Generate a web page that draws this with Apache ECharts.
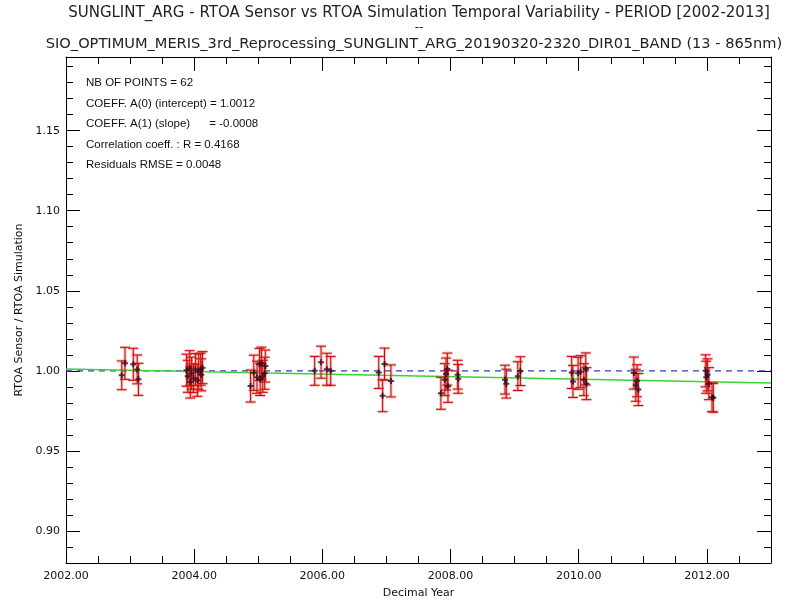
<!DOCTYPE html>
<html><head><meta charset="utf-8">
<script src="https://cdn.jsdelivr.net/npm/echarts@6/dist/echarts.min.js"></script>
<style>html,body{margin:0;padding:0;background:#fff}#c{width:795px;height:604px}</style>
</head><body><div id="c"></div>
<script>
const years = [2002.87,2002.92,2003.05,2003.11,2003.13,
 2003.88,2003.90,2003.93,2003.94,2003.96,2003.99,2004.02,2004.05,2004.07,2004.10,2004.11,2004.13,
 2004.88,2004.93,2004.98,2005.02,2005.03,2005.05,2005.07,2005.11,2005.10,
 2005.88,2005.98,2006.07,2006.13,
 2006.88,2006.94,2006.97,2007.07,
 2007.85,2007.91,2007.93,2007.95,2007.96,2008.11,2008.12,
 2008.85,2008.87,2009.05,2009.09,
 2009.89,2009.91,2009.99,2010.03,2010.08,2010.11,2010.12,
 2010.86,2010.89,2010.91,2010.93,
 2011.98,2011.99,2012.01,2012.03,2012.08,2012.10];
const ratios = [0.9972,1.0047,1.0041,1.0009,0.9947,
 1.0004,0.9966,1.0016,0.9930,0.9985,0.9954,1.0008,0.9941,0.9995,1.0010,0.9975,1.0020,
 0.9905,0.9988,0.9960,1.0040,0.9946,1.0048,0.9966,1.0030,0.9985,
 1.0000,1.0054,1.0010,1.0000,
 0.9990,0.9845,1.0042,0.9937,
 0.9860,0.9945,0.9980,1.0011,0.9903,0.9976,0.9950,
 0.9945,0.9920,0.9967,0.9998,
 0.9990,0.9934,0.9985,0.9995,0.9945,1.0012,0.9920,
 0.9986,0.9910,0.9938,0.9883,
 1.0000,0.9960,0.9975,0.9920,0.9835,0.9832];
const errors = [0.009,0.010,0.010,0.009,0.010,
 0.010,0.010,0.011,0.010,0.010,0.009,0.010,0.010,0.011,0.010,0.010,0.010,
 0.010,0.011,0.010,0.010,0.010,0.010,0.010,0.010,0.010,
 0.009,0.010,0.010,0.009,
 0.010,0.010,0.010,0.010,
 0.010,0.010,0.010,0.010,0.010,0.009,0.009,
 0.009,0.009,0.009,0.009,
 0.010,0.010,0.010,0.010,0.010,0.010,0.010,
 0.010,0.010,0.010,0.010,
 0.010,0.010,0.010,0.010,0.009,0.009];
const fitX = [2002, 2013];
const fitY = [1.0012, 0.9924];
const refX = [2002, 2013];
const refY = [1.0, 1.0];
const xMajor = [2002,2004,2006,2008,2010,2012];
const xMinor = [2002.5,2003,2003.5,2004.5,2005,2005.5,2006.5,2007,2007.5,2008.5,2009,2009.5,2010.5,2011,2011.5,2012.5];
const yMajor = [0.90,0.95,1.00,1.05,1.10,1.15];
const yMinor = [0.89,0.91,0.92,0.93,0.94,0.96,0.97,0.98,0.99,1.01,1.02,1.03,1.04,1.06,1.07,1.08,1.09,1.11,1.12,1.13,1.14,1.16,1.17,1.18,1.19];
const statLines = ['NB OF POINTS = 62','COEFF. A(0) (intercept) = 1.0012','COEFF. A(1) (slope)      = -0.0008','Correlation coeff. : R = 0.4168','Residuals RMSE = 0.0048'];
const title1 = 'SUNGLINT_ARG - RTOA Sensor vs RTOA Simulation Temporal Variability - PERIOD [2002-2013]';
const title2 = 'SIO_OPTIMUM_MERIS_3rd_Reprocessing_SUNGLINT_ARG_20190320-2320_DIR01_BAND (13 - 865nm)';

const FONT = 'DejaVu Sans';
const SFONT = 'Liberation Sans';
const chart = echarts.init(document.getElementById('c'), null, {renderer:'canvas'});
const XMIN=2002, XMAX=2013, YMIN=0.88, YMAX=1.196;
function xAx(pos, vals, len, labels, line){
  return {type:'value', min:XMIN, max:XMAX, position:pos, gridIndex:0,
    axisLine:{show:line, onZero:false, lineStyle:{color:'#000', width:1}},
    axisTick:{show:true, inside:true, length:len, customValues:vals, lineStyle:{color:'#000'}},
    axisLabel:{show:labels, customValues:vals, formatter:v=>v.toFixed(2), color:'#111', fontFamily:FONT, fontSize:11, margin:8},
    splitLine:{show:false}, name: labels?'Decimal Year':'', nameLocation:'middle', nameGap:25,
    nameTextStyle:{color:'#111', fontFamily:FONT, fontSize:11}};
}
function yAx(pos, vals, len, labels, line){
  return {type:'value', min:YMIN, max:YMAX, position:pos, gridIndex:0,
    axisLine:{show:line, onZero:false, lineStyle:{color:'#000', width:1}},
    axisTick:{show:true, inside:true, length:len, customValues:vals, lineStyle:{color:'#000'}},
    axisLabel:{show:labels, customValues:vals, formatter:v=>v.toFixed(2), color:'#111', fontFamily:FONT, fontSize:11, margin:6},
    splitLine:{show:false}, name: labels?'RTOA Sensor / RTOA Simulation':'', nameLocation:'middle', nameGap:40, nameRotate:90,
    nameTextStyle:{color:'#111', fontFamily:FONT, fontSize:11}};
}
const errData = years.map((x,i)=>[x, ratios[i], errors[i]]);
const ptData = years.map((x,i)=>[x, ratios[i]]);
chart.setOption({
  animation:false,
  backgroundColor:'#fff',
  grid:{left:66, right:24, top:57, bottom:40, containLabel:false},
  xAxis:[xAx('bottom',xMajor,14,true,true), xAx('bottom',xMinor,7,false,false), xAx('top',xMajor,14,false,true), xAx('top',xMinor,7,false,false)],
  yAxis:[yAx('left',yMajor,14,true,true), yAx('left',yMinor,7,false,false), yAx('right',yMajor,14,false,true), yAx('right',yMinor,7,false,false)],
  graphic:[
    {type:'text', x:419, y:6, style:{text:title1, font:'15px "'+FONT+'"', fill:'#222', align:'center'}},
    {type:'text', x:419, y:22, style:{text:'--', font:'12px "'+FONT+'"', fill:'#222', align:'center'}},
    {type:'text', x:414, y:37, style:{text:title2, font:'14.6px "'+FONT+'"', fill:'#222', align:'center'}},
    ...statLines.map((t,i)=>({type:'text', x:86, y:77+i*20.5, style:{text:t, font:'11.5px "'+SFONT+'"', fill:'#111'}}))
  ],
  series:[
    {type:'line', data:refX.map((x,i)=>[x,refY[i]]), symbol:'none', lineStyle:{color:'#3a3ab8', width:1.2, type:[6,5]}, z:2},
    {type:'line', data:fitX.map((x,i)=>[x,fitY[i]]), symbol:'none', lineStyle:{color:'#3ad33a', width:1.5}, z:2},
    {type:'custom', data:errData, z:3,
      renderItem:function(params, api){
        const x=api.value(0), y=api.value(1), e=api.value(2);
        const t=api.coord([x,y+e]), b=api.coord([x,y-e]);
        const c=5;
        const segs=[[t[0],t[1],b[0],b[1]],[t[0]-c,t[1],t[0]+c,t[1]],[b[0]-c,b[1],b[0]+c,b[1]]];
        const ch=[];
        segs.forEach(s=>ch.push({type:'line', shape:{x1:s[0],y1:s[1],x2:s[2],y2:s[3]}, style:{stroke:'rgba(215,90,90,0.35)', lineWidth:3}}));
        segs.forEach(s=>ch.push({type:'line', shape:{x1:s[0],y1:s[1],x2:s[2],y2:s[3]}, style:{stroke:'#d80000', lineWidth:1}}));
        return {type:'group', children:ch};
      }},
    {type:'scatter', data:ptData, symbol:'path://M2,0H4V2H6V4H4V6H2V4H0V2H2Z', symbolSize:6, itemStyle:{color:'#2b0a1a'}, z:4}
  ]
});
</script></body></html>
